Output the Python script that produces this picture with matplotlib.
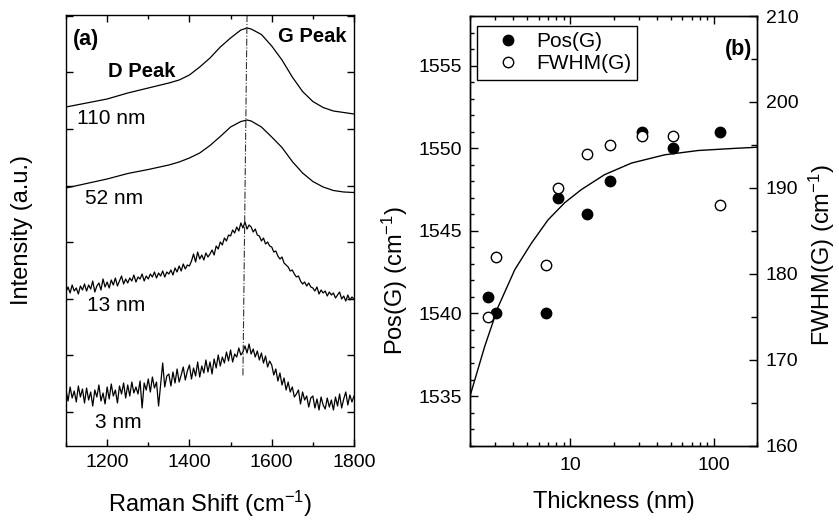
import numpy as np
import matplotlib
matplotlib.use("Agg")
import matplotlib.pyplot as plt
from matplotlib.ticker import MultipleLocator, FuncFormatter, NullFormatter, LogLocator

plt.rcParams['font.family'] = ['Liberation Sans', 'DejaVu Sans']
plt.rcParams['mathtext.fontset'] = 'custom'
plt.rcParams['mathtext.rm'] = 'Liberation Sans'
plt.rcParams['mathtext.it'] = 'Liberation Sans:italic'
plt.rcParams['mathtext.bf'] = 'Liberation Sans:bold'

# ---------------- data: panel (a) Raman spectra ----------------
shift_smooth = [1100, 1150, 1200, 1250, 1300, 1350, 1375, 1400, 1425, 1450, 1475, 1500,
                1525, 1540, 1550, 1575, 1600, 1625, 1650, 1675, 1700, 1725, 1750, 1775, 1800]
spec_110nm = [305, 309, 313, 319, 324, 329, 332, 337, 345, 354, 365, 374,
              382, 384, 383, 377.5, 366, 352, 335, 320.5, 310.5, 304.5, 301, 299.5, 298]
spec_52nm = [224, 228.5, 233, 238.5, 242.5, 247, 250, 254, 259, 266.5, 275.5, 285,
             290.5, 292, 291, 285, 275, 264.5, 250.5, 239, 230.5, 225, 221.5, 220, 219.5]

shift_noisy = np.arange(1100, 1801, 5)
spec_13nm = [120, 125, 119, 127, 121, 124, 118, 126, 122, 128,
             121, 127, 123, 131, 120, 126, 129, 122, 133, 125,
             130, 124, 132, 127, 134, 126, 131, 136, 128, 133,
             129, 134, 131, 137, 130, 135, 133, 138, 131, 136,
             133, 138, 135, 140, 134, 139, 136, 141, 135, 140,
             138, 142, 137, 144, 140, 146, 141, 148, 143, 147,
             146, 151, 158, 150, 160, 153, 157, 152, 159, 155,
             158, 162, 157, 166, 163, 170, 167, 174, 171, 177,
             176, 182, 179, 185, 181, 189, 184, 190, 183, 187,
             185, 180, 183, 177, 176, 171, 174, 168, 170, 166,
             165, 160, 161, 156, 153, 155, 149, 147, 145, 141,
             142, 138, 135, 136, 131, 128, 130, 126, 129, 125,
             124, 121, 125, 118, 122, 119, 121, 116, 120, 117,
             119, 114, 117, 120, 113, 116, 111, 117, 112, 115,
             113]
spec_3nm = [22, 11, 25, 14, 21, 10, 26, 15, 23, 9,
            24, 12, 20, 6, 22, 15, 27, 11, 19, 8,
            25, 13, 28, 16, 22, 9, 26, 18, 29, 14,
            27, 16, 30, 19, 25, 18, 31, 4, 29, 22,
            33, 20, 35, 24, 30, 6, 27, 49, 25, 36,
            38, 26, 40, 29, 43, 30, 37, 45, 32, 41,
            47, 33, 44, 36, 50, 35, 46, 39, 52, 40,
            50, 38, 53, 44, 57, 46, 55, 49, 60, 51,
            62, 50, 58, 55, 64, 57, 60, 66, 59, 68,
            58, 63, 55, 61, 52, 59, 49, 56, 45, 51,
            47, 37, 43, 31, 39, 27, 34, 22, 30, 20,
            25, 15, 18, 22, 8, 20, 12, 16, 5, 14,
            16, 4, 13, 2, 15, 7, 3, 14, 5, 12,
            2, 15, 6, 18, 4, 13, 20, 7, 17, 10,
            16]
spectra_labels = ['110 nm', '52 nm', '13 nm', '3 nm']
g_line_x = [1540, 1530]
g_line_y = [397, 35]

# ---------------- data: panel (b) ----------------
thickness = [2.65, 3.05, 6.73, 8.16, 13, 19, 31.4, 51.5, 110]
pos_g = [1541, 1540, 1540, 1547, 1546, 1548, 1551, 1550, 1551]
fwhm_g = [175, 182, 181, 190, 194, 195, 196, 196, 188]
fit_t = [2.0, 2.53, 3.14, 4.10, 5.35, 6.98, 9.12, 11.93, 17.3, 26.6, 45.3, 77.3, 132, 200]
fit_pos = [1535.0, 1538.0, 1540.4, 1542.65, 1544.25, 1545.66, 1546.7, 1547.5,
           1548.4, 1549.1, 1549.6, 1549.86, 1549.98, 1550.06]

W, H = 839, 522
fig = plt.figure(figsize=(W / 100, H / 100), dpi=100)
fig.patch.set_facecolor('white')


def fr(x0, y0, x1, y1):
    return [x0 / W, 1 - y1 / H, (x1 - x0) / W, (y1 - y0) / H]


TS = 14
LS = 17
# ---------------- panel (a) ----------------
ax = fig.add_axes(fr(66, 15, 354, 446))
lw = 0.9
ax.plot(shift_smooth, spec_110nm, color='black', lw=lw)
ax.plot(shift_smooth, spec_52nm, color='black', lw=lw)
ax.plot(shift_noisy, spec_13nm, color='black', lw=lw)
ax.plot(shift_noisy, spec_3nm, color='black', lw=lw)
ax.plot(g_line_x, g_line_y, color='#333333', lw=0.8, ls='-.')
ax.set_xlim(1100, 1800)
ax.set_ylim(-34, 397)
ax.xaxis.set_major_locator(MultipleLocator(200))
ax.xaxis.set_minor_locator(MultipleLocator(100))
ax.yaxis.set_major_locator(MultipleLocator(56.6))
ax.yaxis.set_major_formatter(NullFormatter())
ax.tick_params(which='both', direction='in', top=True, right=True, width=1, labelsize=TS, pad=6)
ax.tick_params(which='major', length=5)
ax.tick_params(which='minor', length=3)
for s in ax.spines.values():
    s.set_linewidth(1.0)

ax.text(0.024, 0.944, '(a)', transform=ax.transAxes, fontsize=15.5, fontweight='bold', va='center', ha='left')
ax.text(0.736, 0.950, 'G Peak', transform=ax.transAxes, fontsize=14.5, fontweight='bold', va='center', ha='left')
ax.text(0.146, 0.869, 'D Peak', transform=ax.transAxes, fontsize=14.5, fontweight='bold', va='center', ha='left')
lab_pos = [(0.037, 0.761), (0.066, 0.575), (0.072, 0.325), (0.1015, 0.0545)]
for lab, (lx, ly) in zip(spectra_labels, lab_pos):
    ax.text(lx, ly, lab, transform=ax.transAxes, fontsize=15, va='center', ha='left')

fig.text(22 / W, 1 - 230 / H, 'Intensity (a.u.)', rotation=90, ha='center', va='center', fontsize=LS)
fig.text(210 / W, 1 - 511.7 / H, 'Raman Shift (cm$^{-1}$)', ha='center', va='baseline', fontsize=LS)

# ---------------- panel (b) ----------------
bx = fig.add_axes(fr(470, 16, 757.3, 445.7))
bx2 = bx.twinx()
bx.set_xscale('log')
bx.plot(fit_t, fit_pos, color='black', lw=1.0)
bx.plot(thickness, pos_g, 'o', color='black', ms=7.5, label='Pos(G)')
bx2.plot(thickness, fwhm_g, 'o', mfc='white', mec='black', mew=1.0, ms=7.5, label='FWHM(G)')
bx.set_xlim(2, 200)
bx.set_ylim(1532, 1558)
bx2.set_ylim(160, 210)
bx.xaxis.set_major_locator(LogLocator(base=10, numticks=10))
bx.xaxis.set_minor_locator(LogLocator(base=10, subs=np.arange(2, 10), numticks=20))
bx.xaxis.set_major_formatter(FuncFormatter(lambda v, p: f"{v:g}"))
bx.xaxis.set_minor_formatter(NullFormatter())
bx.yaxis.set_major_locator(MultipleLocator(5))
bx.yaxis.set_minor_locator(MultipleLocator(1))
bx2.yaxis.set_major_locator(MultipleLocator(10))
bx2.yaxis.set_minor_locator(MultipleLocator(5))
bx.tick_params(which='both', direction='in', top=True, right=False, width=1, labelsize=TS)
bx.tick_params(axis='x', which='both', pad=8)
bx.tick_params(axis='y', which='both', pad=6)
bx.tick_params(which='major', length=5.5)
bx.tick_params(which='minor', length=3)
bx2.tick_params(which='both', direction='in', width=1, labelsize=TS, pad=6)
bx2.tick_params(which='major', length=5.5)
bx2.tick_params(which='minor', length=4)
for s in list(bx.spines.values()) + list(bx2.spines.values()):
    s.set_linewidth(1.0)

h1, l1 = bx.get_legend_handles_labels()
h2, l2 = bx2.get_legend_handles_labels()
leg = bx2.legend(h1 + h2, l1 + l2, loc='upper left', bbox_to_anchor=(0.023, 0.977),
                 borderaxespad=0, fontsize=15, fancybox=False, edgecolor='black',
                 framealpha=1, handlelength=2.4, handletextpad=0.15, borderpad=0.3,
                 labelspacing=0.15)
leg.get_frame().set_linewidth(1.0)
bx2.text(0.9815, 0.923, '(b)', transform=bx2.transAxes, fontsize=15.5, fontweight='bold', va='center', ha='right')

fig.text(614 / W, 1 - 507.7 / H, 'Thickness (nm)', ha='center', va='baseline', fontsize=LS)
fig.text(395 / W, 1 - 281 / H, 'Pos(G) (cm$^{-1}$)', rotation=90, ha='center', va='center', fontsize=LS)
fig.text(822 / W, 1 - 255 / H, 'FWHM(G) (cm$^{-1}$)', rotation=90, ha='center', va='center', fontsize=LS)

fig.savefig('out.png', dpi=100, facecolor='white')
